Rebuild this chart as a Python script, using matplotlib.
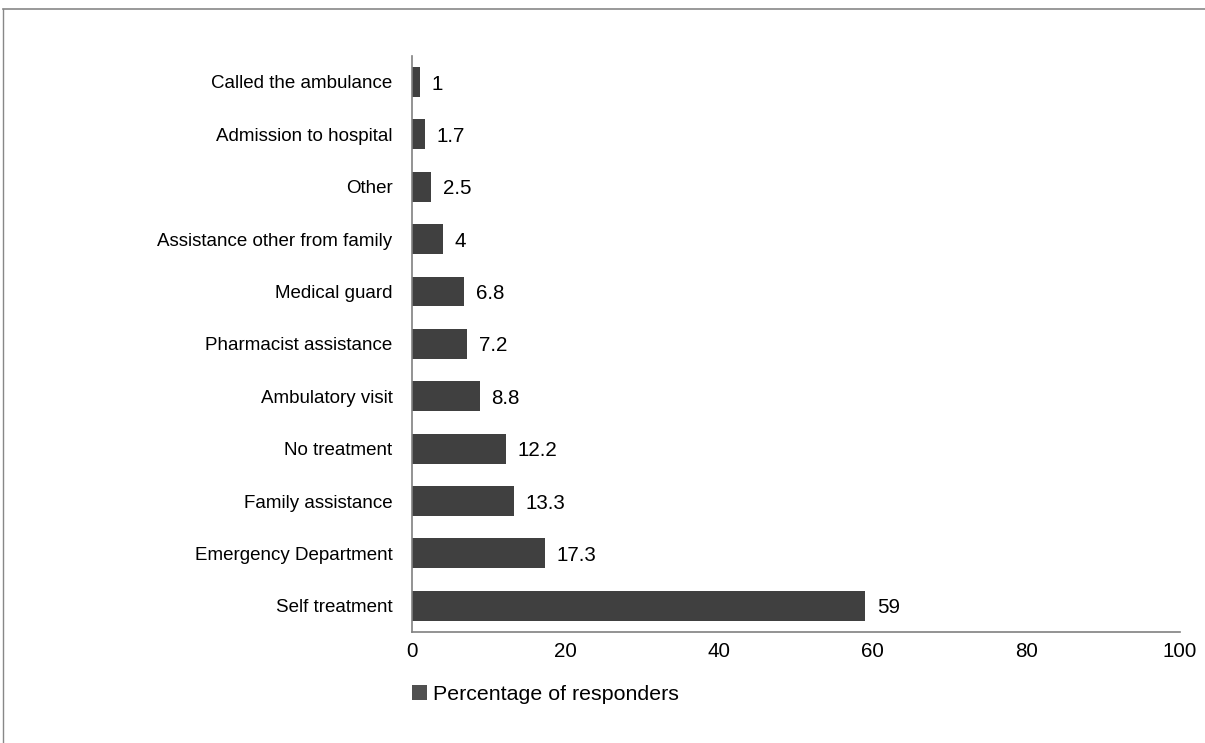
import matplotlib
matplotlib.use("Agg")
import matplotlib.pyplot as plt
from matplotlib.patches import Patch
from matplotlib.lines import Line2D

categories = ["Self treatment", "Emergency Department", "Family assistance", "No treatment",
              "Ambulatory visit", "Pharmacist assistance", "Medical guard",
              "Assistance other from family", "Other", "Admission to hospital",
              "Called the ambulance"]
values = [59, 17.3, 13.3, 12.2, 8.8, 7.2, 6.8, 4, 2.5, 1.7, 1]
value_labels = ["59", "17.3", "13.3", "12.2", "8.8", "7.2", "6.8", "4", "2.5", "1.7", "1"]
xticks = [0, 20, 40, 60, 80, 100]

plt.rcParams['font.family'] = ['Liberation Sans', 'DejaVu Sans']
FS_Y = 13.5
FS = 14.8
fig = plt.figure(figsize=(12.05, 7.43), dpi=100)
ax = fig.add_axes([0.3419, 0.1494, 0.6373, 0.7755])

bar_color = "#404040"
ypos = list(range(len(categories)))
ax.barh(ypos, values, height=0.57, color=bar_color)
ax.set_ylim(-0.5, len(categories) - 0.5)
ax.set_xlim(0, 100)
ax.set_yticks(ypos)
ax.set_yticklabels(categories, fontsize=FS_Y)
ax.set_xticks(xticks)
ax.set_xticklabels([str(t) for t in xticks], fontsize=FS)
ax.tick_params(axis='y', length=0, pad=14)
ax.tick_params(axis='x', length=0, pad=7)
for s in ["top", "right"]:
    ax.spines[s].set_visible(False)
for s in ["left", "bottom"]:
    ax.spines[s].set_color("#808080")
    ax.spines[s].set_linewidth(1.2)

for y, v, lab in zip(ypos, values, value_labels):
    ax.annotate(lab, xy=(v, y), xytext=(8.5, -1.5), textcoords="offset points",
                va="center", ha="left", fontsize=FS)

handle = Patch(facecolor="#505050", edgecolor="none")
fig.legend([handle], ["Percentage of responders"], loc="center left",
           bbox_to_anchor=(0.3257, 0.065), frameon=False, fontsize=15.4,
           handlelength=0.7, handleheight=0.7, handletextpad=0.3)

# frame lines at top and left
fig.add_artist(Line2D([0.0025, 1.0], [0.9875, 0.9875], transform=fig.transFigure,
                      color="#888888", linewidth=1.2))
fig.add_artist(Line2D([0.0029, 0.0029], [0.0, 0.9875], transform=fig.transFigure,
                      color="#888888", linewidth=1.0))

fig.savefig("out.png", dpi=100)
